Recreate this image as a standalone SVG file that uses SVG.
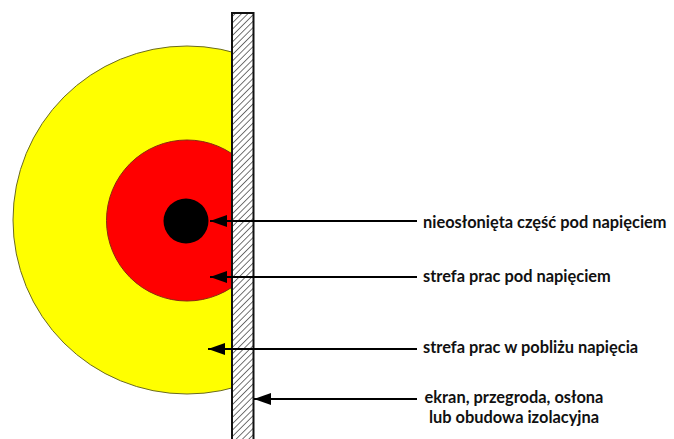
<svg xmlns="http://www.w3.org/2000/svg" width="674" height="439" viewBox="0 0 674 439">
<style>
.lbl{font-family:Lato,"Open Sans",sans-serif;font-weight:bold;font-size:16.4px;fill:#111}
.conn{stroke:#000;stroke-width:2;fill:none;marker-end:url(#ah)}
</style>
<defs>
<marker id="ah" markerWidth="18" markerHeight="12" refX="17" refY="6" orient="auto" markerUnits="userSpaceOnUse">
<path d="M0,0 L17,6 L0,12 Z" fill="#000"/>
</marker>
<pattern id="hatch" width="4.5" height="4.5" patternUnits="userSpaceOnUse" patternTransform="rotate(45)">
<rect width="4.5" height="4.5" fill="#fff"/>
<line x1="0" y1="0" x2="0" y2="4.5" stroke="#666" stroke-width="1.8"/>
</pattern>
<clipPath id="left"><rect x="0" y="0" width="233" height="439"/></clipPath>
</defs>
<rect width="674" height="439" fill="#fff"/>
<g id="zones" clip-path="url(#left)">
<circle id="yellow-zone" cx="187" cy="220" r="174" fill="#ffff00" stroke="#6b6b20" stroke-width="1"/>
<circle id="red-zone" cx="187" cy="220.5" r="80.5" fill="#ff0000" stroke="#8a2a10" stroke-width="1"/>
</g>
<g id="live-part"><circle cx="186" cy="221" r="22.5" fill="#000"/></g>
<g id="wall"><rect x="232" y="13" width="21.5" height="430" fill="url(#hatch)" stroke="#111" stroke-width="2"/></g>
<g id="connectors">
<line class="conn" x1="417" y1="221" x2="210" y2="221"/>
<line class="conn" x1="417" y1="277" x2="210" y2="277"/>
<line class="conn" x1="417" y1="349" x2="208" y2="349"/>
<line class="conn" x1="417" y1="399" x2="254" y2="399"/>
</g>
<g id="labels">
<text class="lbl" x="423" y="228">nieosłonięta część pod napięciem</text>
<text class="lbl" x="423" y="282">strefa prac pod napięciem</text>
<text class="lbl" x="423" y="353">strefa prac w pobliżu napięcia</text>
<text class="lbl" x="514" y="403" text-anchor="middle">ekran, przegroda, osłona</text>
<text class="lbl" x="514" y="423" text-anchor="middle">lub obudowa izolacyjna</text>
</g>
</svg>
